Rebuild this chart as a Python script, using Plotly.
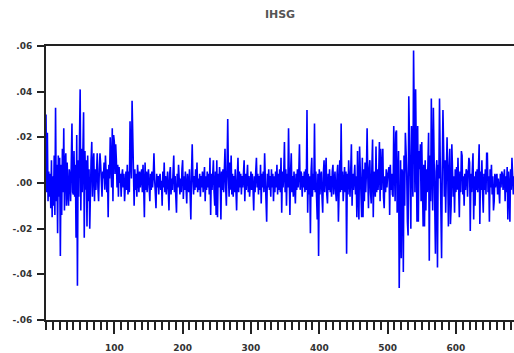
import plotly.graph_objects as go

returns_1 = [
    0.030, -0.004, 0.022, -0.008, 0.005, -0.006, 0.004, -0.011, 0.010, -0.015,
    0.003, -0.010, 0.012, -0.014, 0.033, -0.008, 0.008, -0.022, 0.012, -0.006,
    0.011, -0.032, 0.008, -0.014, 0.015, -0.004, 0.024, -0.012, 0.009, 0.013,
    -0.010, 0.009, -0.004, -0.010, 0.006, 0.003, -0.008, 0.010, 0.026, -0.004,
    -0.005, 0.014, -0.006, 0.008, -0.024, 0.021, -0.045, 0.010, -0.006, 0.018,
    0.041, -0.012, 0.015, -0.004, 0.010, 0.031, -0.024, 0.014, -0.003, 0.010,
    -0.019, 0.012, -0.008, 0.006, -0.020, 0.004, 0.010, 0.018, -0.006, 0.008,
    0.013, -0.008, 0.006, -0.003, 0.009, 0.013, -0.002, -0.008, 0.005, 0.013,
    0.008, -0.004, -0.006, 0.005, 0.002, 0.009, -0.003, 0.012, 0.001, -0.004,
    0.006, -0.015, 0.008, 0.002, 0.020, 0.012, -0.002, 0.024, -0.008, 0.021,
    0.018, 0.004, 0.017, 0.010, -0.002, 0.008, -0.006, 0.007, 0.000, 0.004,
    -0.006, 0.003, 0.006, -0.002, 0.004, -0.008, 0.002, 0.005, -0.003, 0.008,
    -0.005, 0.005, -0.004, 0.027, 0.010, 0.002, 0.036, 0.012, 0.004, -0.010,
    0.006, -0.003, 0.004, -0.006, 0.008, 0.002, -0.004, 0.005, -0.002, 0.003,
]
returns_2 = [
    0.006, -0.004, 0.008, -0.002, -0.015, 0.009, -0.003, 0.005, -0.004, 0.003,
    0.006, -0.002, -0.008, 0.004, -0.003, 0.005, -0.002, 0.003, 0.013, 0.002,
    -0.004, -0.011, 0.004, -0.002, 0.003, -0.005, 0.002, 0.004, -0.003, 0.001,
    -0.010, 0.005, -0.002, 0.009, -0.004, 0.003, -0.005, 0.002, 0.005, -0.003,
    -0.012, 0.004, 0.007, -0.005, 0.002, -0.003, 0.005, 0.012, -0.004, 0.003,
    -0.006, -0.013, 0.004, -0.002, 0.008, 0.003, -0.005, 0.002, -0.004, 0.006,
    0.010, -0.007, 0.003, -0.003, 0.005, -0.002, -0.009, 0.004, 0.001, -0.004,
    0.006, -0.003, -0.016, 0.004, 0.017, 0.002, -0.005, 0.003, -0.003, 0.006,
    -0.002, 0.009, -0.004, 0.002, -0.003, 0.004, -0.006, 0.003, -0.002, 0.005,
    -0.004, 0.002, 0.007, -0.008, 0.003, -0.003, 0.005, -0.002, 0.004, -0.005,
    0.011, -0.014, 0.004, -0.003, 0.006, 0.010, -0.004, -0.010, 0.005, -0.014,
    0.010, -0.015, 0.004, -0.002, 0.007, 0.002, -0.016, 0.005, -0.003, 0.006,
    -0.004, 0.008, 0.015, -0.002, -0.010, 0.006, 0.028, 0.004, -0.006, 0.009,
    -0.003, 0.012, -0.005, 0.004, -0.006, 0.003, -0.004, 0.006, -0.002, -0.012,
]
returns_3 = [
    0.003, 0.011, -0.004, 0.005, -0.002, 0.004, -0.005, 0.003, -0.002, 0.006,
    0.010, -0.008, 0.004, -0.003, 0.002, 0.008, -0.004, 0.003, -0.006, 0.002,
    0.005, -0.003, 0.004, -0.002, -0.012, 0.003, -0.004, 0.005, 0.011, -0.002,
    0.004, -0.005, 0.003, -0.003, 0.008, -0.009, 0.004, -0.002, 0.005, -0.004,
    0.013, 0.002, -0.005, -0.017, 0.004, -0.002, 0.006, -0.003, 0.003, -0.006,
    0.006, -0.002, 0.004, -0.008, 0.003, -0.004, 0.005, -0.002, 0.008, -0.005,
    0.004, -0.003, 0.006, -0.004, 0.011, -0.013, 0.005, -0.002, 0.004, 0.018,
    -0.004, 0.006, -0.010, 0.004, -0.002, 0.024, 0.003, -0.014, 0.005, 0.013,
    -0.004, 0.003, -0.006, 0.005, -0.002, -0.009, 0.004, -0.003, 0.006, -0.002,
    0.004, 0.017, -0.003, 0.005, 0.004, -0.006, 0.003, -0.002, 0.005, -0.004,
    0.006, -0.003, 0.032, -0.013, 0.004, -0.005, 0.003, -0.022, 0.005, 0.011,
    -0.006, 0.004, -0.003, 0.026, -0.004, 0.005, -0.006, -0.016, 0.004, -0.032,
    0.006, -0.005, 0.003, 0.005, -0.006, -0.013, 0.004, 0.010, -0.004, 0.003,
    0.011, -0.005, -0.009, 0.004, -0.003, 0.006, -0.004, 0.003, -0.006, 0.005,
]
returns_4 = [
    0.008, -0.005, 0.003, 0.005, -0.004, -0.008, 0.004, 0.008, -0.017, -0.006,
    0.010, -0.004, 0.026, -0.003, 0.005, -0.008, 0.003, 0.007, -0.004, 0.005,
    -0.031, 0.004, -0.005, 0.010, 0.002, -0.006, 0.005, 0.017, -0.010, 0.004,
    -0.003, 0.006, 0.008, -0.005, 0.003, -0.015, 0.014, -0.004, -0.016, 0.016,
    0.002, -0.006, -0.015, 0.011, -0.015, 0.006, -0.008, 0.009, -0.004, 0.005,
    0.024, 0.003, -0.011, 0.006, 0.010, -0.004, -0.009, 0.007, 0.019, -0.015,
    0.005, 0.002, -0.006, 0.016, -0.004, 0.006, -0.003, 0.004, 0.018, -0.008,
    0.015, -0.003, 0.004, 0.015, -0.006, -0.011, 0.003, -0.004, 0.006, -0.002,
    0.003, 0.006, 0.007, -0.014, 0.008, -0.003, 0.004, -0.005, -0.006, 0.025,
    0.004, -0.008, 0.022, 0.023, -0.013, 0.012, 0.014, -0.046, 0.008, 0.010,
    -0.033, 0.006, 0.004, -0.039, 0.012, -0.010, 0.022, 0.014, 0.004, -0.017,
    -0.023, 0.038, 0.020, -0.008, -0.020, 0.025, 0.010, -0.006, 0.058, 0.012,
    -0.004, 0.041, -0.010, -0.017, 0.025, -0.017, 0.014, 0.006, 0.017, -0.008,
]
returns_5 = [
    0.018, -0.006, -0.019, 0.008, -0.019, 0.010, -0.012, 0.006, -0.004, 0.008,
    0.022, -0.034, 0.012, -0.008, 0.037, 0.006, -0.012, 0.033, 0.004, -0.010,
    -0.031, 0.005, 0.010, -0.037, 0.008, 0.002, 0.037, 0.010, -0.008, -0.033,
    0.006, 0.032, 0.015, -0.006, 0.010, -0.013, 0.004, 0.020, 0.005, -0.019,
    0.006, 0.015, -0.018, -0.010, 0.017, 0.004, -0.006, 0.003, -0.013, 0.006,
    -0.004, 0.007, -0.003, 0.011, 0.002, -0.015, 0.005, -0.004, 0.014, 0.012,
    -0.005, 0.003, -0.010, 0.004, -0.003, 0.006, 0.005, -0.006, 0.004, 0.011,
    0.009, -0.021, 0.004, -0.004, 0.006, 0.013, -0.016, 0.003, -0.010, 0.005,
    -0.003, 0.006, -0.004, 0.008, 0.017, -0.018, 0.005, -0.003, 0.010, -0.004,
    -0.013, 0.004, -0.003, 0.006, -0.005, 0.013, 0.013, -0.004, 0.003, -0.017,
    0.006, -0.002, 0.008, -0.005, 0.003, -0.012, -0.008, 0.004, -0.002, 0.003,
    0.004, -0.005, 0.002, -0.003, -0.009, 0.004, -0.002, 0.005, 0.004, -0.003,
    0.002, 0.006, -0.008, 0.003, -0.004, 0.007, -0.016, 0.005, -0.002, -0.017,
    0.006, -0.003, 0.011, 0.004, -0.005, 0.003,
]

ihsg = returns_1 + returns_2 + returns_3 + returns_4 + returns_5
obs = list(range(len(ihsg)))

x_tick_vals = [100, 200, 300, 400, 500, 600]
x_tick_text = ["100", "200", "300", "400", "500", "600"]
y_tick_vals = [-0.06, -0.04, -0.02, 0.0, 0.02, 0.04, 0.06]
y_tick_text = ["-.06", "-.04", "-.02", ".00", ".02", ".04", ".06"]

fig = go.Figure()
fig.add_trace(go.Scatter(
    x=obs, y=ihsg, mode="lines",
    line=dict(color="#0000ff", width=1.6),
    hoverinfo="skip", showlegend=False,
))

tick_font = dict(family="DejaVu Sans", size=9, color="#333333", weight="bold")

fig.update_layout(
    width=514, height=353,
    margin=dict(l=46, r=0, t=46, b=27),
    paper_bgcolor="white", plot_bgcolor="white",
    title=dict(text="IHSG", x=0.5, xref="paper", xanchor="center",
               y=1 - 14 / 353, yanchor="middle",
               font=dict(family="DejaVu Sans", size=11, color="#555555",
                         weight="bold")),
    showlegend=False,
)
fig.update_xaxes(
    range=[0, 685], showgrid=False, zeroline=False,
    showline=True, linecolor="#222222", linewidth=2, mirror=True,
    tickmode="array", tickvals=x_tick_vals, ticktext=x_tick_text,
    ticks="outside", ticklen=12, tickwidth=2, tickcolor="#222222",
    minor=dict(tickmode="linear", tick0=0, dtick=10, ticks="outside",
               ticklen=8, tickwidth=2, tickcolor="#222222", showgrid=False),
    tickfont=tick_font,
    ticklabelstandoff=6,
)
fig.update_yaxes(
    range=[-0.06, 0.06], showgrid=False, zeroline=False,
    showline=True, linecolor="#222222", linewidth=2, mirror=False,
    tickmode="array", tickvals=y_tick_vals, ticktext=y_tick_text,
    ticks="outside", ticklen=7, tickwidth=2, tickcolor="#222222",
    tickfont=tick_font,
    ticklabelstandoff=3,
)

fig.write_html(
    "out.html",
    config={"displayModeBar": False, "staticPlot": True},
    post_script="document.body.style.margin='0';document.body.style.overflow='hidden';",
)
